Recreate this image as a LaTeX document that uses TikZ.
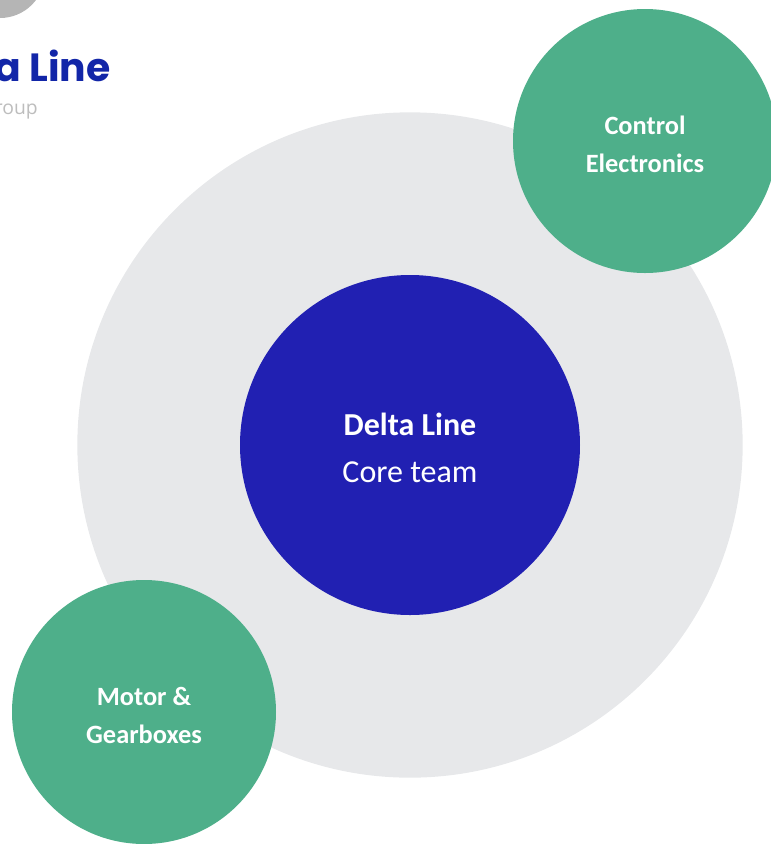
\documentclass[tikz,border=0pt]{standalone}
\usepackage{fontspec}
\setmainfont{Carlito}
\newfontfamily\logofont{Poppins}
\newfontfamily\subfont{Open Sans}
\definecolor{ringgrey}{HTML}{E7E8EA}
\definecolor{coreblue}{HTML}{2120B2}
\definecolor{satgreen}{HTML}{4EAF8A}
\definecolor{logoblue}{HTML}{1226A8}
\definecolor{logogrey}{HTML}{B5B5B5}
\definecolor{subgrey}{HTML}{BDBDBD}
\tikzset{
  px/.style={x=0.75pt,y=-0.75pt},
  circ/.style={circle,inner sep=0pt,outer sep=0pt},
  sat/.style={circ,fill=satgreen,minimum size=198pt},
  sattext/.style={text=white,font=\bfseries\fontsize{19.8}{28.5}\selectfont,align=center,inner sep=0pt},
}
\begin{document}
\begin{tikzpicture}[px]
\useasboundingbox (0,0) rectangle (771,844);
\begin{scope}
\clip (0,0) rectangle (771,844);
\fill[logogrey] (0,-27) circle[radius=45];
\node[circ,fill=ringgrey,minimum size=499pt] (ring) at (410,445) {};
\node[circ,fill=coreblue,minimum size=255pt] (core) at (410,445) {};
\node[text=white,align=center,inner sep=0pt,font=\fontsize{24}{35}\selectfont] (coretext) at (410,448) {\textbf{Delta Line}\\Core team};
\node[sat] (ctrl) at (645,141) {};
\node[sattext] (ctrltext) at (645,144) {Control\\Electronics};
\node[sat] (motor) at (144,712) {};
\node[sattext] (motortext) at (144,715) {Motor \&\\Gearboxes};
\node[anchor=base east,text=logoblue,inner sep=0pt,font=\logofont\bfseries\fontsize{29.5}{30}\selectfont] (logo) at (111,81) {a Line};
\node[anchor=base east,text=subgrey,inner sep=0pt,font=\subfont\fontsize{14.5}{16}\selectfont] (sub) at (38,114) {roup};
\end{scope}
\end{tikzpicture}
\end{document}
